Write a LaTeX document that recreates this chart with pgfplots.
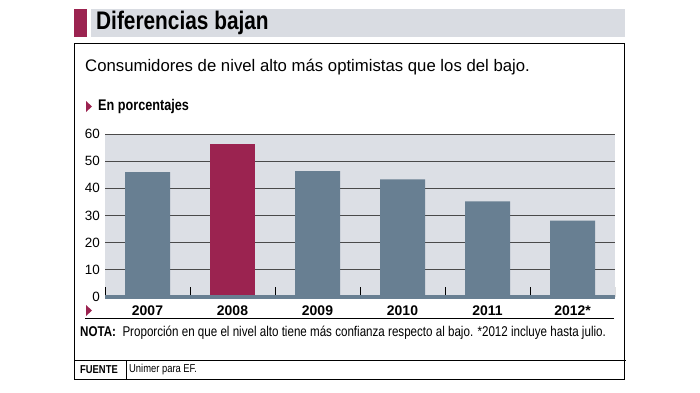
\documentclass[border=0pt]{standalone}
\usepackage{fontspec}
\setmainfont{Liberation Sans}
\newfontfamily\narrow[FakeStretch=0.82]{Liberation Sans}
\usepackage{pgfplots}
\pgfplotsset{compat=1.18}
\definecolor{barc}{HTML}{687F92}
\definecolor{redc}{HTML}{9B2350}
\definecolor{bgc}{HTML}{DCDFE5}
\definecolor{bandc}{HTML}{D9DCE2}
\definecolor{gridc}{HTML}{4A4A4A}
\begin{document}
\begin{tikzpicture}
\path (0,0) rectangle (700bp,-393bp);
\begin{axis}[
  at={(105bp,-297bp)}, anchor=south west,
  width=510bp, height=163bp, scale only axis,
  xmin=-0.5, xmax=5.5, ymin=0, ymax=60,
  xtick={0,...,5},
  xticklabels={2007,2008,2009,2010,2011,2012*},
  ytick={0,10,...,60},
  axis line style={draw=none},
  tick style={draw=none},
  xtick pos=bottom, ytick pos=left,
  ymajorgrids,
  major grid style={draw=gridc, line width=0.8pt},
  axis background/.style={fill=bgc},
  /pgf/number format/assume math mode=true,
  xticklabel style={font=\fontsize{14}{15}\selectfont\bfseries, anchor=base, yshift=-14.5bp},
  yticklabel style={font=\fontsize{13.5}{14}\selectfont, inner sep=0pt, xshift=-5bp},
  ybar, bar width=45bp,
]
\addplot[fill=barc, draw=none, bar shift=0pt] coordinates {(0,46) (2,46.3) (3,43.3) (4,35.2) (5,28.1)};
\addplot[fill=redc, draw=none, bar shift=0pt] coordinates {(1,56.4)};
\pgfplotsinvokeforeach{-0.5,0.5,1.5,2.5,3.5,4.5,5.5}{
  \draw[black, line width=0.8pt] (axis cs:#1,0) -- ([yshift=10bp]axis cs:#1,0);
}
\end{axis}
\begin{scope}[x=1bp,y=-1bp]
  % baseline band
  \fill[barc] (105,294.5) rectangle (615,299);
  % title band
  \fill[redc] (74,9) rectangle (87,37);
  \fill[bandc] (91,9) rectangle (625,37);
  \node[anchor=west, inner sep=0] at (96,23) {\narrow\fontsize{25.5}{26}\selectfont\bfseries Diferencias bajan};
  % frame
  \draw[line width=1bp] (74,43) -- (624,43) -- (624,379) -- (74,379) -- cycle;
  \draw[line width=1bp] (74,360) -- (626,360);
  \draw[line width=1bp] (126,360) -- (126,379);
  \draw[line width=1bp] (85,318) -- (614,318);
  % subtitle
  \node[anchor=west, inner sep=0] at (85,67) {\fontsize{16.8}{18}\selectfont Consumidores de nivel alto más optimistas que los del bajo.};
  \fill[redc] (86,101) -- (92,106.5) -- (86,112) -- cycle;
  \node[anchor=west, inner sep=0] at (98,107) {\narrow\fontsize{15.5}{16}\selectfont\bfseries En porcentajes};
  \fill[redc] (86,305) -- (92,310.5) -- (86,316) -- cycle;
  % note
  \node[anchor=west, inner sep=0] at (80,333) {\narrow\fontsize{14.2}{15}\selectfont\textbf{NOTA:}\ \ Proporción en que el nivel alto tiene más confianza respecto al bajo. *2012 incluye hasta julio.};
  \node[anchor=west, inner sep=0] at (80,370) {\narrow\fontsize{11.5}{13}\selectfont\bfseries FUENTE};
  \node[anchor=west, inner sep=0] at (129,370) {\narrow\fontsize{11.5}{13}\selectfont Unimer para EF.};
\end{scope}
\end{tikzpicture}
\end{document}
